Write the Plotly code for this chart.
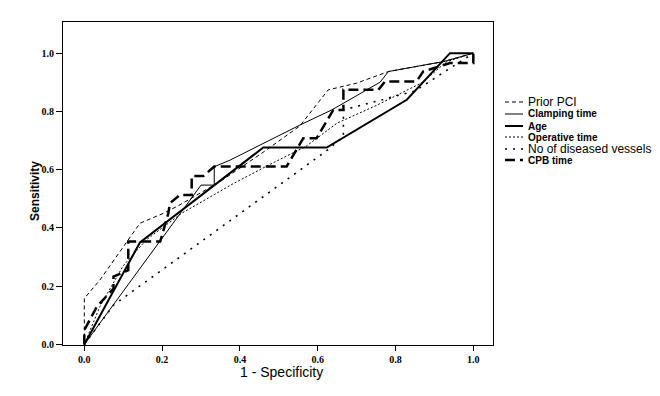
import plotly.graph_objects as go

# ROC curve data (1 - specificity, sensitivity)
prior_pci_x = [0, 0, 0.04, 0.113, 0.143, 0.203, 0.24, 0.35, 0.46, 0.554, 0.627, 0.70, 0.782, 0.923, 1.0]
prior_pci_y = [0, 0.158, 0.221, 0.358, 0.416, 0.45, 0.475, 0.56, 0.66, 0.75, 0.874, 0.897, 0.937, 0.971, 1.0]

clamping_x = [0, 0.30, 0.334, 0.334, 0.375, 0.554, 0.636, 0.76, 0.782, 0.923, 1.0]
clamping_y = [0, 0.547, 0.547, 0.61, 0.633, 0.753, 0.805, 0.90, 0.937, 0.971, 1.0]

age_x = [0, 0.143, 0.46, 0.623, 0.829, 0.94, 1.0]
age_y = [0, 0.35, 0.676, 0.676, 0.84, 1.0, 1.0]

operative_x = [0, 0.04, 0.10, 0.16, 0.25, 0.38, 0.48, 0.57, 0.65, 0.75, 0.87, 0.93, 1.0]
operative_y = [0, 0.13, 0.27, 0.36, 0.45, 0.55, 0.62, 0.68, 0.76, 0.82, 0.90, 0.97, 1.0]

vessels_x = [0, 0.075, 0.623, 0.666, 0.666, 0.85, 1.0]
vessels_y = [0, 0.135, 0.665, 0.713, 0.805, 0.87, 1.0]

cpb_x = [0, 0, 0.032, 0.075, 0.075, 0.113, 0.113, 0.195, 0.216, 0.22, 0.246, 0.276, 0.276, 0.306,
         0.334, 0.52, 0.563, 0.597, 0.64, 0.666, 0.666, 0.756, 0.773, 0.854, 0.871, 0.94, 1.0, 1.0]
cpb_y = [0, 0.049, 0.129, 0.192, 0.233, 0.255, 0.353, 0.353, 0.45, 0.485, 0.513, 0.513, 0.578, 0.578,
         0.611, 0.611, 0.708, 0.708, 0.805, 0.805, 0.874, 0.874, 0.903, 0.903, 0.937, 0.966, 0.966, 1.0]

x_ticks = [0.0, 0.2, 0.4, 0.6, 0.8, 1.0]
y_ticks = [0.0, 0.2, 0.4, 0.6, 0.8, 1.0]

series = [
    ("Prior PCI", prior_pci_x, prior_pci_y, 1, "4px,3px"),
    ("Clamping time", clamping_x, clamping_y, 1, "solid"),
    ("Age", age_x, age_y, 2, "solid"),
    ("Operative time", operative_x, operative_y, 1, "2px,2px"),
    ("No of diseased vessels", vessels_x, vessels_y, 1.6, "2px,6px"),
    ("CPB time", cpb_x, cpb_y, 2.5, "10px,5px"),
]

fig = go.Figure()
for name, xs, ys, w, d in series:
    fig.add_trace(go.Scatter(x=xs, y=ys, mode="lines", name=name,
                             line=dict(color="black", width=w, dash=d),
                             showlegend=False, hoverinfo="skip"))

# page body has an 8px margin; compensate so the picture lines up with the target
OFF = 8
W, H = 660 - OFF, 396 - OFF
ml, mt = 63 - OFF, 22 - OFF
plot_right, plot_bottom = 493 - OFF, 345 - OFF
mr, mb = W - plot_right, H - plot_bottom
pw, ph = W - ml - mr, H - mt - mb

def px(xp):
    return (xp - OFF - ml) / pw

def py(yp):
    return (plot_bottom - (yp - OFF)) / ph

# Legend drawn as layout shapes + annotations
legend_rows = [102, 114, 126, 137, 149, 160]
legend_fonts = [
    dict(family="Liberation Sans, Arial", size=12, color="black", weight="normal"),
    dict(family="Liberation Sans, Arial", size=10, color="black", weight="bold"),
    dict(family="Liberation Sans, Arial", size=10, color="black", weight="bold"),
    dict(family="Liberation Sans, Arial", size=10, color="black", weight="bold"),
    dict(family="Liberation Sans, Arial", size=12, color="black", weight="normal"),
    dict(family="Liberation Sans, Arial", size=10, color="black", weight="bold"),
]
shapes = []
annotations = []
for (name, xs, ys, w, d), yrow, f in zip(series, legend_rows, legend_fonts):
    shapes.append(dict(type="line", xref="paper", yref="paper",
                       x0=px(505), x1=px(523), y0=py(yrow), y1=py(yrow),
                       line=dict(color="black", width=w, dash=d)))
    annotations.append(dict(text=name, xref="paper", yref="paper",
                            x=px(526), y=py(yrow), xanchor="left", yanchor="middle",
                            showarrow=False, font=f))

annotations.append(dict(text="1 - Specificity", xref="paper", yref="paper",
                        x=px(281), y=py(372), xanchor="center", yanchor="middle",
                        showarrow=False,
                        font=dict(family="Liberation Sans, Arial", size=14, color="black")))
annotations.append(dict(text="Sensitivity", xref="paper", yref="paper",
                        x=px(35), y=py(191), xanchor="center", yanchor="middle",
                        textangle=-90, showarrow=False,
                        font=dict(family="Liberation Sans, Arial", size=12, color="black", weight="bold")))

tickfont = dict(family="Liberation Serif, Times New Roman", size=10, color="black", weight="bold")

fig.update_layout(
    width=W, height=H,
    margin=dict(l=ml, r=mr, t=mt, b=mb, pad=0),
    paper_bgcolor="white", plot_bgcolor="white",
    showlegend=False,
    shapes=shapes,
    annotations=annotations,
    xaxis=dict(range=[-0.0548, 1.0506], tickvals=x_ticks,
               ticktext=[f"{v:.1f}" for v in x_ticks],
               showgrid=False, zeroline=False, showline=True, mirror=True,
               linecolor="black", linewidth=1, ticks="outside", ticklen=5,
               tickcolor="black", tickfont=tickfont),
    yaxis=dict(range=[-0.002, 1.107], tickvals=y_ticks,
               ticktext=[f"{v:.1f}" for v in y_ticks],
               showgrid=False, zeroline=False, showline=True, mirror=True,
               linecolor="black", linewidth=1, ticks="outside", ticklen=6,
               tickcolor="black", tickfont=tickfont),
)

fig.write_html("out.html")
